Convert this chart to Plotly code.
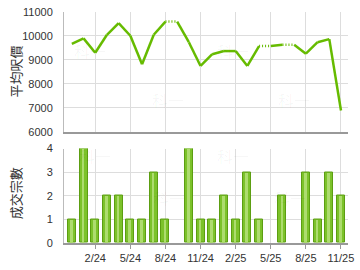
import plotly.graph_objects as go
from plotly.subplots import make_subplots

# ---- data ----
months = ['12/23', '1/24', '2/24', '3/24', '4/24', '5/24', '6/24', '7/24', '8/24', '9/24',
          '10/24', '11/24', '12/24', '1/25', '2/25', '3/25', '4/25', '5/25', '6/25', '7/25',
          '8/25', '9/25', '10/25', '11/25']
avg_price = [9670, 9900, 9300, 10050, 10540, 10010, 8820, 10050, 10600, None,
             9740, 8750, 9240, 9370, 9370, 8750, 9580, None, 9630, None,
             9260, 9740, 9870, 6890]
deals = [1, 4, 1, 2, 2, 1, 1, 3, 1, 0,
         4, 1, 1, 2, 1, 3, 1, 0, 2, 0,
         3, 1, 3, 2]
tick_months = ['2/24', '5/24', '8/24', '11/24', '2/25', '5/25', '8/25', '11/25']
price_ticks = [6000, 7000, 8000, 9000, 10000, 11000]
deal_ticks = [0, 1, 2, 3, 4]

GREEN = '#66BB00'
FONT = 'Liberation Sans, Arial, sans-serif'

# carry-forward for months without data; segments into a missing month are dotted
shown = []
last = None
for v in avg_price:
    if v is not None:
        last = v
    shown.append(last)

solid_x, solid_y, dot_x, dot_y = [], [], [], []
for i in range(len(months) - 1):
    seg_x = [months[i], months[i + 1], None]
    seg_y = [shown[i], shown[i + 1], None]
    if avg_price[i + 1] is None:
        dot_x += seg_x
        dot_y += seg_y
    else:
        solid_x += seg_x
        solid_y += seg_y

fig = make_subplots(rows=2, cols=1, shared_xaxes=False, vertical_spacing=0.0)

fig.add_trace(go.Scatter(x=solid_x, y=solid_y, mode='lines',
                         line=dict(color=GREEN, width=2.5), connectgaps=False,
                         hoverinfo='skip', showlegend=False), row=1, col=1)
fig.add_trace(go.Scatter(x=dot_x, y=dot_y, mode='lines',
                         line=dict(color=GREEN, width=2.5, dash='1px,2px'), connectgaps=False,
                         hoverinfo='skip', showlegend=False), row=1, col=1)

bar_vals = [d if d > 0 else None for d in deals]
fig.add_trace(go.Bar(x=months, y=bar_vals, width=0.68,
                     marker=dict(color='#7CC22A', line=dict(color='#5C9E12', width=1)),
                     showlegend=False), row=2, col=1)
fig.add_trace(go.Bar(x=months, y=bar_vals, width=0.22, offset=-0.16,
                     marker=dict(color='#ADDC6E', line=dict(width=0)),
                     showlegend=False), row=2, col=1)

fig.update_layout(barmode='overlay')

xr = [-0.67, 23.6]
common_x = dict(type='category', categoryorder='array', categoryarray=months, range=xr,
                showgrid=True, gridcolor='#DDDDDD', gridwidth=1,
                tickmode='array', tickvals=tick_months, ticktext=tick_months,
                tickfont=dict(family=FONT, size=11, color='#333333'),
                zeroline=False)
fig.update_xaxes(**common_x, showticklabels=False, ticks='',
                 showline=True, linecolor='#999999', linewidth=2, row=1, col=1)
fig.update_xaxes(**common_x, showticklabels=True, ticks='outside', ticklen=4,
                 tickcolor='#999999',
                 showline=True, linecolor='#999999', linewidth=2, row=2, col=1)

fig.update_yaxes(range=[6000, 11000], tickmode='array', tickvals=price_ticks,
                 ticktext=[str(t) for t in price_ticks],
                 showgrid=True, gridcolor='#DDDDDD', zeroline=False,
                 showline=True, linecolor='#BBBBBB', linewidth=1,
                 ticks='', ticklabelstandoff=8,
                 tickfont=dict(family=FONT, size=11, color='#333333'), row=1, col=1)
fig.update_yaxes(range=[0, 4], tickmode='array', tickvals=deal_ticks,
                 ticktext=[str(t) for t in deal_ticks],
                 showgrid=True, gridcolor='#DDDDDD', zeroline=False,
                 showline=True, linecolor='#BBBBBB', linewidth=1,
                 ticks='', ticklabelstandoff=8,
                 tickfont=dict(family=FONT, size=11, color='#333333'), row=2, col=1)

fig.update_layout(
    xaxis=dict(domain=[0, 1]),
    yaxis=dict(domain=[0.481, 1.0]),
    xaxis2=dict(domain=[0, 1]),
    yaxis2=dict(domain=[0.0, 0.409]),
)

annotations = [
    dict(text='平均呎價', x=14, y=68),
    dict(text='成交宗數', x=14, y=193),
]
for a in annotations:
    fig.add_annotation(text=a['text'], xref='paper', yref='paper',
                       x=(a['x'] - 64) / 290, y=(244 - a['y']) / 237,
                       xanchor='center', yanchor='middle',
                       textangle=-90, showarrow=False,
                       font=dict(family='Noto Sans CJK TC', size=13, color='#333333'))

# faint watermarks
for wx, wy in [(72, 33), (152, 97), (237, 33), (317, 97),
               (77, 155), (153, 212), (237, 155), (313, 212)]:
    fig.add_annotation(text='科一', xref='paper', yref='paper',
                       x=(wx - 64) / 290, y=(244 - wy) / 237, showarrow=False,
                       font=dict(family='Noto Sans CJK TC', size=16, color='rgba(0,0,0,0.04)'))

fig.update_layout(width=360, height=270,
                  margin=dict(l=64, r=6, t=7, b=26),
                  paper_bgcolor='white', plot_bgcolor='white',
                  bargap=0)

fig.write_html('out.html')
